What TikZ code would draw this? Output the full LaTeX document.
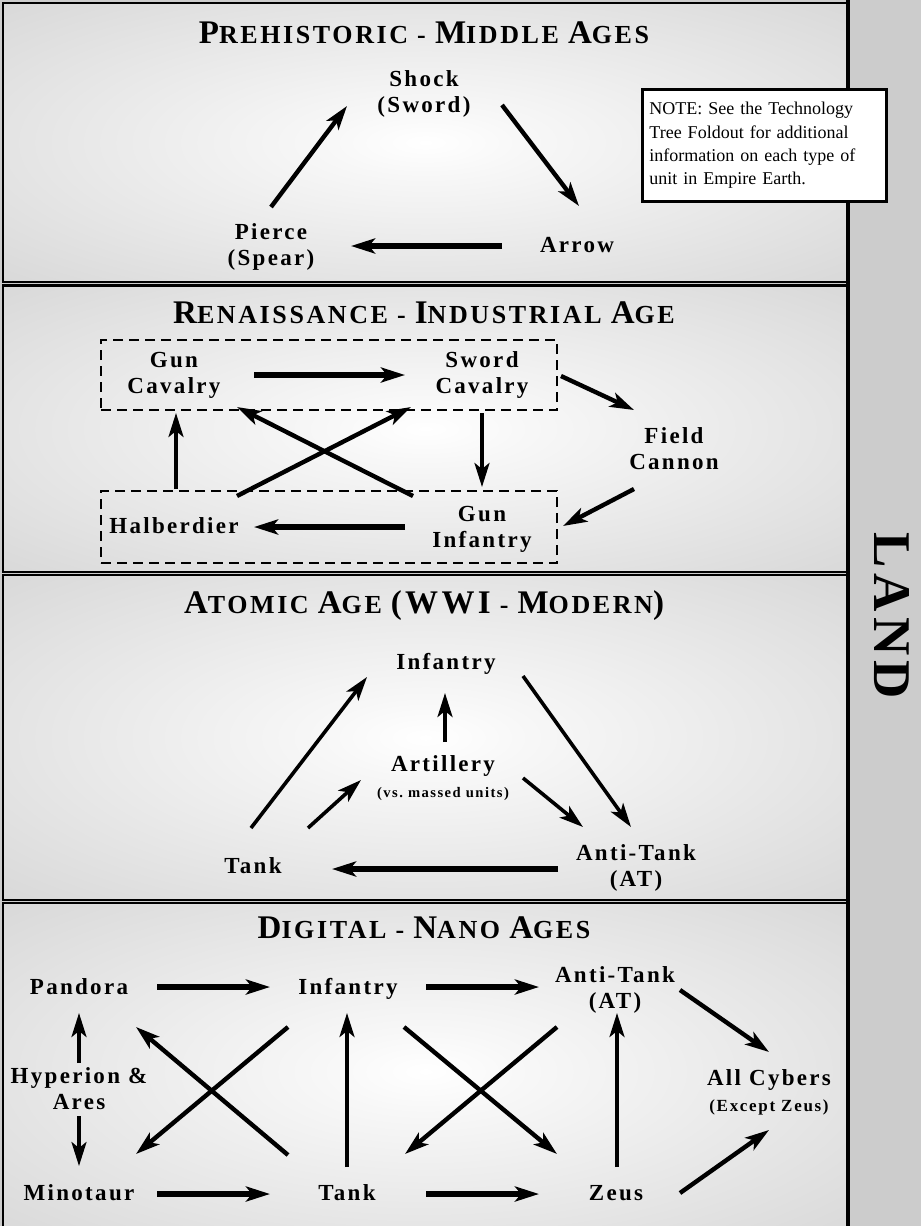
\documentclass[tikz,border=0pt]{standalone}
\usepackage{fontspec}
\setmainfont{Liberation Serif}
\newfontfamily\unitfont{Liberation Serif}[LetterSpace=10]
\usetikzlibrary{arrows.meta}

\newcommand{\capx}[1]{{\fontsize{16.5pt}{18pt}\selectfont #1}}
\pgfdeclareradialshading{panelglow}{\pgfpoint{0bp}{0bp}}{color(0bp)=(white); color(6bp)=(white!97!black); color(50bp)=(black!21); color(72bp)=(black!21)}

\begin{document}
\begin{tikzpicture}[x=0.5pt, y=-0.5pt,
		panel/.style={line width=1.3pt, shading=panelglow},
		ttl/.style={font=\unitfont\bfseries\fontsize{13pt}{15pt}\selectfont, anchor=base, inner sep=0pt},
		unit/.style={font=\unitfont\bfseries\fontsize{11.5pt}{13pt}\selectfont, align=center, anchor=base, inner sep=0pt},
		note/.style={draw, line width=1.4pt, fill=white, font=\fontsize{9pt}{11.7pt}\selectfont, text width=115pt, align=left, minimum height=56pt, inner xsep=3.5pt, inner ysep=0pt, anchor=north west},
		dbox/.style={draw, line width=1.2pt, dash pattern=on 5pt off 3pt, minimum width=228pt, inner sep=0pt},
		arr/.style={line width=2.2pt, -{Stealth[length=12pt, width=7.5pt, inset=3pt]}},
		arrw/.style={arr, line width=3pt},
		arrn/.style={arr, line width=1.8pt}
		]
		\useasboundingbox (0,0) rectangle (921,1226);
		\clip (0,0) rectangle (921,1226);
		\fill[black!20] (0,0) rectangle (921,1226);
		\shadedraw[panel] (3,3) rectangle (848,282);
		\shadedraw[panel] (3,285.5) rectangle (848,572);
		\shadedraw[panel] (3,575) rectangle (848,900);
		\shadedraw[panel] (3,903) rectangle (848,1240);
		\draw[line width=2.4pt] (848,0) -- (848,1226);
		\node[font=\unitfont\bfseries\fontsize{26.5pt}{30pt}\selectfont, rotate=-90, inner sep=0pt] (land) at (892,616) {LAND};
		\node[note] (note) at (641,88) {NOTE: See the Technology\\Tree Foldout for additional\\information on each type of\\unit in Empire Earth.};

		\node[ttl] (title1) at (424,43) {\capx{P}REHISTORIC - \capx{M}IDDLE \capx{A}GES};
		\node[unit] (shock) at (424,112) {Shock\\(Sword)};
		\node[unit] (pierce) at (271,265) {Pierce\\(Spear)};
		\node[unit] (arrowu) at (577,252) {Arrow};
		\draw[arr] ([shift={(0,-58)}]pierce.base) -- ([shift={(-77,-6)}]shock.base);
		\draw[arr] ([shift={(78,-7)}]shock.base) -- ([shift={(2,-46)}]arrowu.base);
		\draw[arrw] ([shift={(-75,-6)}]arrowu.base) -- ([shift={(80,-19)}]pierce.base);

		\node[ttl] (title2) at (424,323) {\capx{R}ENAISSANCE - \capx{I}NDUSTRIAL \capx{A}GE};
		\node[dbox, minimum height=35pt] (cavbox) at (329,375) {};
		\node[dbox, minimum height=36pt] (infbox) at (329,527) {};
		\node[unit] (guncav) at (174,393) {Gun\\Cavalry};
		\node[unit] (swordcav) at (482,393) {Sword\\Cavalry};
		\node[unit] (fieldcan) at (674,469) {Field\\Cannon};
		\node[unit] (halb) at (174,533) {Halberdier};
		\node[unit] (guninf) at (482,547) {Gun\\Infantry};
		\draw[arrw] ([shift={(80,-18)}]guncav.base) -- ([shift={(-77,-18)}]swordcav.base);
		\draw[arr] ([shift={(79,-17)}]swordcav.base) -- ([shift={(-40,-59)}]fieldcan.base);
		\draw[arr] ([shift={(-40,20)}]fieldcan.base) -- ([shift={(81,-21)}]guninf.base);
		\draw[arrn] ([shift={(0,20)}]swordcav.base) -- ([shift={(0,-60)}]guninf.base);
		\draw[arrw] ([shift={(-77,-20)}]guninf.base) -- ([shift={(80,-6)}]halb.base);
		\draw[arrn] ([shift={(2,-44)}]halb.base) -- ([shift={(2,20)}]guncav.base);
		\draw[arr] ([shift={(63,-37)}]halb.base) -- ([shift={(-71,14)}]swordcav.base);
		\draw[arr] ([shift={(-69,-51)}]guninf.base) -- ([shift={(63,14)}]guncav.base);

		\node[ttl] (title3) at (424,613) {\capx{A}TOMIC \capx{A}GE \capx{(WWI} - \capx{M}ODERN\capx{)}};
		\node[unit] (ainf) at (446,669) {Infantry};
		\node[unit] (art) at (443,797) {Artillery\\{\fontsize{7.3pt}{13pt}\selectfont (vs.\ massed units)}};
		\node[unit] (atank) at (253,873) {Tank};
		\node[unit] (aat) at (636,886) {Anti-Tank\\(AT)};
		\draw[arrn] ([shift={(-2,-45)}]atank.base) -- ([shift={(-79,8)}]ainf.base);
		\draw[arrn] ([shift={(77,7)}]ainf.base) -- ([shift={(-5,-59)}]aat.base);
		\draw[arrn] ([shift={(2,-55)}]art.base) -- ([shift={(-1,24)}]ainf.base);
		\draw[arrn] ([shift={(55,-45)}]atank.base) -- ([shift={(-82,-17)}]art.base);
		\draw[arrn] ([shift={(80,-19)}]art.base) -- ([shift={(-53,-59)}]aat.base);
		\draw[arrw] ([shift={(-78,-17)}]aat.base) -- ([shift={(79,-4)}]atank.base);

		\node[ttl] (title4) at (424,938) {\capx{D}IGITAL - \capx{N}ANO \capx{A}GES};
		\node[unit] (dpan) at (79,994) {Pandora};
		\node[unit] (dinf) at (348,994) {Infantry};
		\node[unit] (dat) at (615,1008) {Anti-Tank\\(AT)};
		\node[unit] (dhyp) at (79,1109) {Hyperion \&\\Ares};
		\node[unit] (dcyb) at (769,1111) {All Cybers\\{\fontsize{8.5pt}{13pt}\selectfont (Except Zeus)}};
		\node[unit] (dmin) at (79,1200) {Minotaur};
		\node[unit] (dtank) at (347,1200) {Tank};
		\node[unit] (dzeus) at (616,1200) {Zeus};
		\draw[arrw] ([shift={(78,-7)}]dpan.base) -- ([shift={(-78,-7)}]dinf.base);
		\draw[arrw] ([shift={(78,-7)}]dinf.base) -- ([shift={(-76,-21)}]dat.base);
		\draw[arrw] ([shift={(78,-6)}]dmin.base) -- ([shift={(-77,-6)}]dtank.base);
		\draw[arrw] ([shift={(79,-6)}]dtank.base) -- ([shift={(-77,-6)}]dzeus.base);
		\draw[arrn] ([shift={(0,-46)}]dhyp.base) -- ([shift={(0,19)}]dpan.base);
		\draw[arrn] ([shift={(0,7)}]dhyp.base) -- ([shift={(0,-34)}]dmin.base);
		\draw[arrn] ([shift={(0,-33)}]dtank.base) -- ([shift={(-1,19)}]dinf.base);
		\draw[arrn] ([shift={(1,-33)}]dzeus.base) -- ([shift={(2,5)}]dat.base);
		\draw[arr] ([shift={(-59,-45)}]dtank.base) -- ([shift={(57,33)}]dpan.base);
		\draw[arr] ([shift={(-60,33)}]dinf.base) -- ([shift={(57,-46)}]dmin.base);
		\draw[arr] ([shift={(56,33)}]dinf.base) -- ([shift={(-59,-46)}]dzeus.base);
		\draw[arr] ([shift={(-58,19)}]dat.base) -- ([shift={(58,-46)}]dtank.base);
		\draw[arr] ([shift={(65,-18)}]dat.base) -- ([shift={(0,-59)}]dcyb.base);
		\draw[arr] ([shift={(64,-7)}]dzeus.base) -- ([shift={(0,19)}]dcyb.base);
	\end{tikzpicture}
\end{document}
